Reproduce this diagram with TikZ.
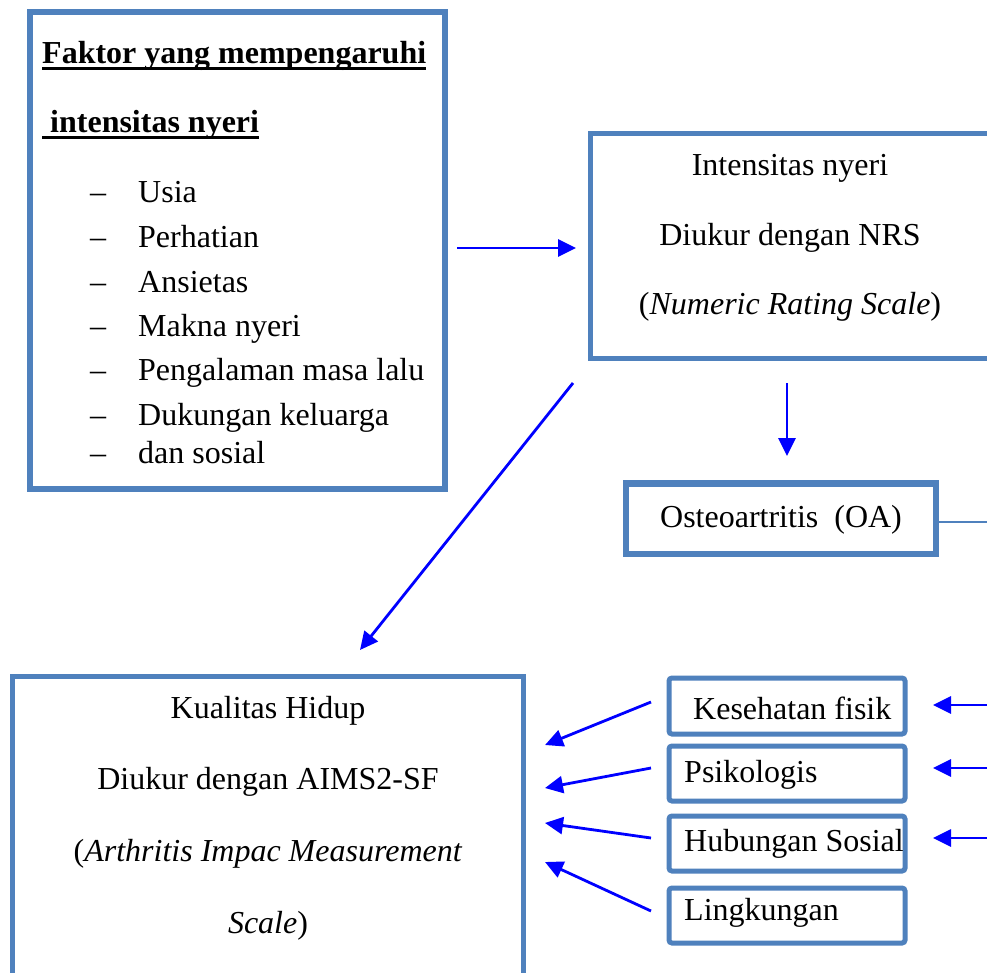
\documentclass[tikz,border=0pt]{standalone}
\usepackage{fontspec}
\setmainfont{Liberation Serif}
\usetikzlibrary{arrows.meta}
\definecolor{boxblue}{RGB}{79,129,189}
\definecolor{arrblue}{RGB}{0,0,255}
\begin{document}
\begin{tikzpicture}[x=1pt,y=-1pt,
  txt/.style={inner sep=0pt, font=\fontsize{32}{38}\selectfont},
  bxf/.style={draw=boxblue, line width=#1, inner sep=0pt, fill=white},
  sbx/.style={draw=boxblue, line width=5pt, inner sep=0pt, rounded corners=3pt, minimum width=236pt},
  arr/.style={draw=arrblue, line width=2.8pt, -{Triangle[length=18pt,width=17pt]}},
  ulin/.style={draw=black, line width=3.5pt}]
\useasboundingbox (0,0) rectangle (987,972);
\clip (0,0) rectangle (987,972);
\fill[white] (0,0) rectangle (987,972);

% boxes
\node[bxf=6pt, minimum width=415.5pt, minimum height=477.5pt] (fbox) at (237.25,250.25) {};
\node[bxf=5pt, minimum width=420pt, minimum height=224.5pt] (ibox) at (800,245.75) {};
\node[bxf=6.5pt, minimum width=310pt, minimum height=70.5pt] (obox) at (781,518.75) {};
\node[bxf=5pt, minimum width=511pt, minimum height=334pt] (kbox) at (267.5,843) {};
\node[sbx, minimum height=56pt] (s1) at (787,706) {};
\node[sbx, minimum height=55pt] (s2) at (787,773.5) {};
\node[sbx, minimum height=55pt] (s3) at (787,843.5) {};
\node[sbx, minimum height=55pt] (s4) at (787,915.5) {};

% box 1 text
\node[txt, anchor=base west, font=\fontsize{32}{38}\selectfont\bfseries] (t1) at (42,63) {Faktor yang mempengaruhi};
\node[txt, anchor=base west, font=\fontsize{32}{38}\selectfont\bfseries] (t2) at (50,132) {intensitas nyeri};
\draw[ulin] (42,68.5) -- (t1.base east |- 0,68.5);
\draw[ulin] (42,137.5) -- (t2.base east |- 0,137.5);
\foreach \y/\t [count=\i] in {202/Usia, 247/Perhatian, 292/Ansietas, 336/Makna nyeri, 380/Pengalaman masa lalu, 425/Dukungan keluarga, 463/dan sosial}{
  \node[txt, anchor=base west] (d\i) at (90,\y) {–};
  \node[txt, anchor=base west] (l\i) at (138,\y) {\t};
}

% box 2 text
\node[txt, anchor=base] (i1) at (790,175) {Intensitas nyeri};
\node[txt, anchor=base] (i2) at (790,245) {Diukur dengan NRS};
\node[txt, anchor=base] (i3) at (790,314) {(\textit{Numeric Rating Scale})};

% OA
\node[txt, anchor=base] (o1) at (781,527) {Osteoartritis\ \ (OA)};

% Kualitas
\node[txt, anchor=base] (k1) at (268,718) {Kualitas Hidup};
\node[txt, anchor=base] (k2) at (268,789) {Diukur dengan AIMS2-SF};
\node[txt, anchor=base] (k3) at (268,861) {(\textit{Arthritis Impac Measurement}};
\node[txt, anchor=base] (k4) at (268,933) {\textit{Scale})};

% small box texts
\node[txt, anchor=base west] (p1) at (693,719) {Kesehatan fisik};
\node[txt, anchor=base west] (p2) at (684,782) {Psikologis};
\node[txt, anchor=base west] (p3) at (684,851) {Hubungan Sosial};
\node[txt, anchor=base west] (p4) at (684,920) {Lingkungan};

% connector ends
\coordinate (a1s) at (457,248); \coordinate (a1e) at (576,248);
\coordinate (a2s) at (787,383); \coordinate (a2e) at (787,456);
\coordinate (a3s) at (573,383); \coordinate (a3e) at (360,650);
\coordinate (r1s) at (995,705); \coordinate (r1e) at (933,705);
\coordinate (r2s) at (995,768); \coordinate (r2e) at (933,768);
\coordinate (r3s) at (995,838); \coordinate (r3e) at (933,838);
\coordinate (k1s) at (651,702); \coordinate (k1e) at (545,745);
\coordinate (k2s) at (651,768); \coordinate (k2e) at (545,788);
\coordinate (k3s) at (651,838); \coordinate (k3e) at (545,823);
\coordinate (k4s) at (651,911); \coordinate (k4e) at (545,862);
\coordinate (oend) at (995,522);

\draw[arr] (a1s) -- (a1e);
\draw[arr] (a2s) -- (a2e);
\draw[arr] (a3s) -- (a3e);
\draw[arr] (r1s) -- (r1e);
\draw[arr] (r2s) -- (r2e);
\draw[arr] (r3s) -- (r3e);
\draw[arr] (k1s) -- (k1e);
\draw[arr] (k2s) -- (k2e);
\draw[arr] (k3s) -- (k3e);
\draw[arr] (k4s) -- (k4e);
\draw[draw=boxblue, line width=2pt] (obox.east |- oend) -- (oend);
\end{tikzpicture}
\end{document}
